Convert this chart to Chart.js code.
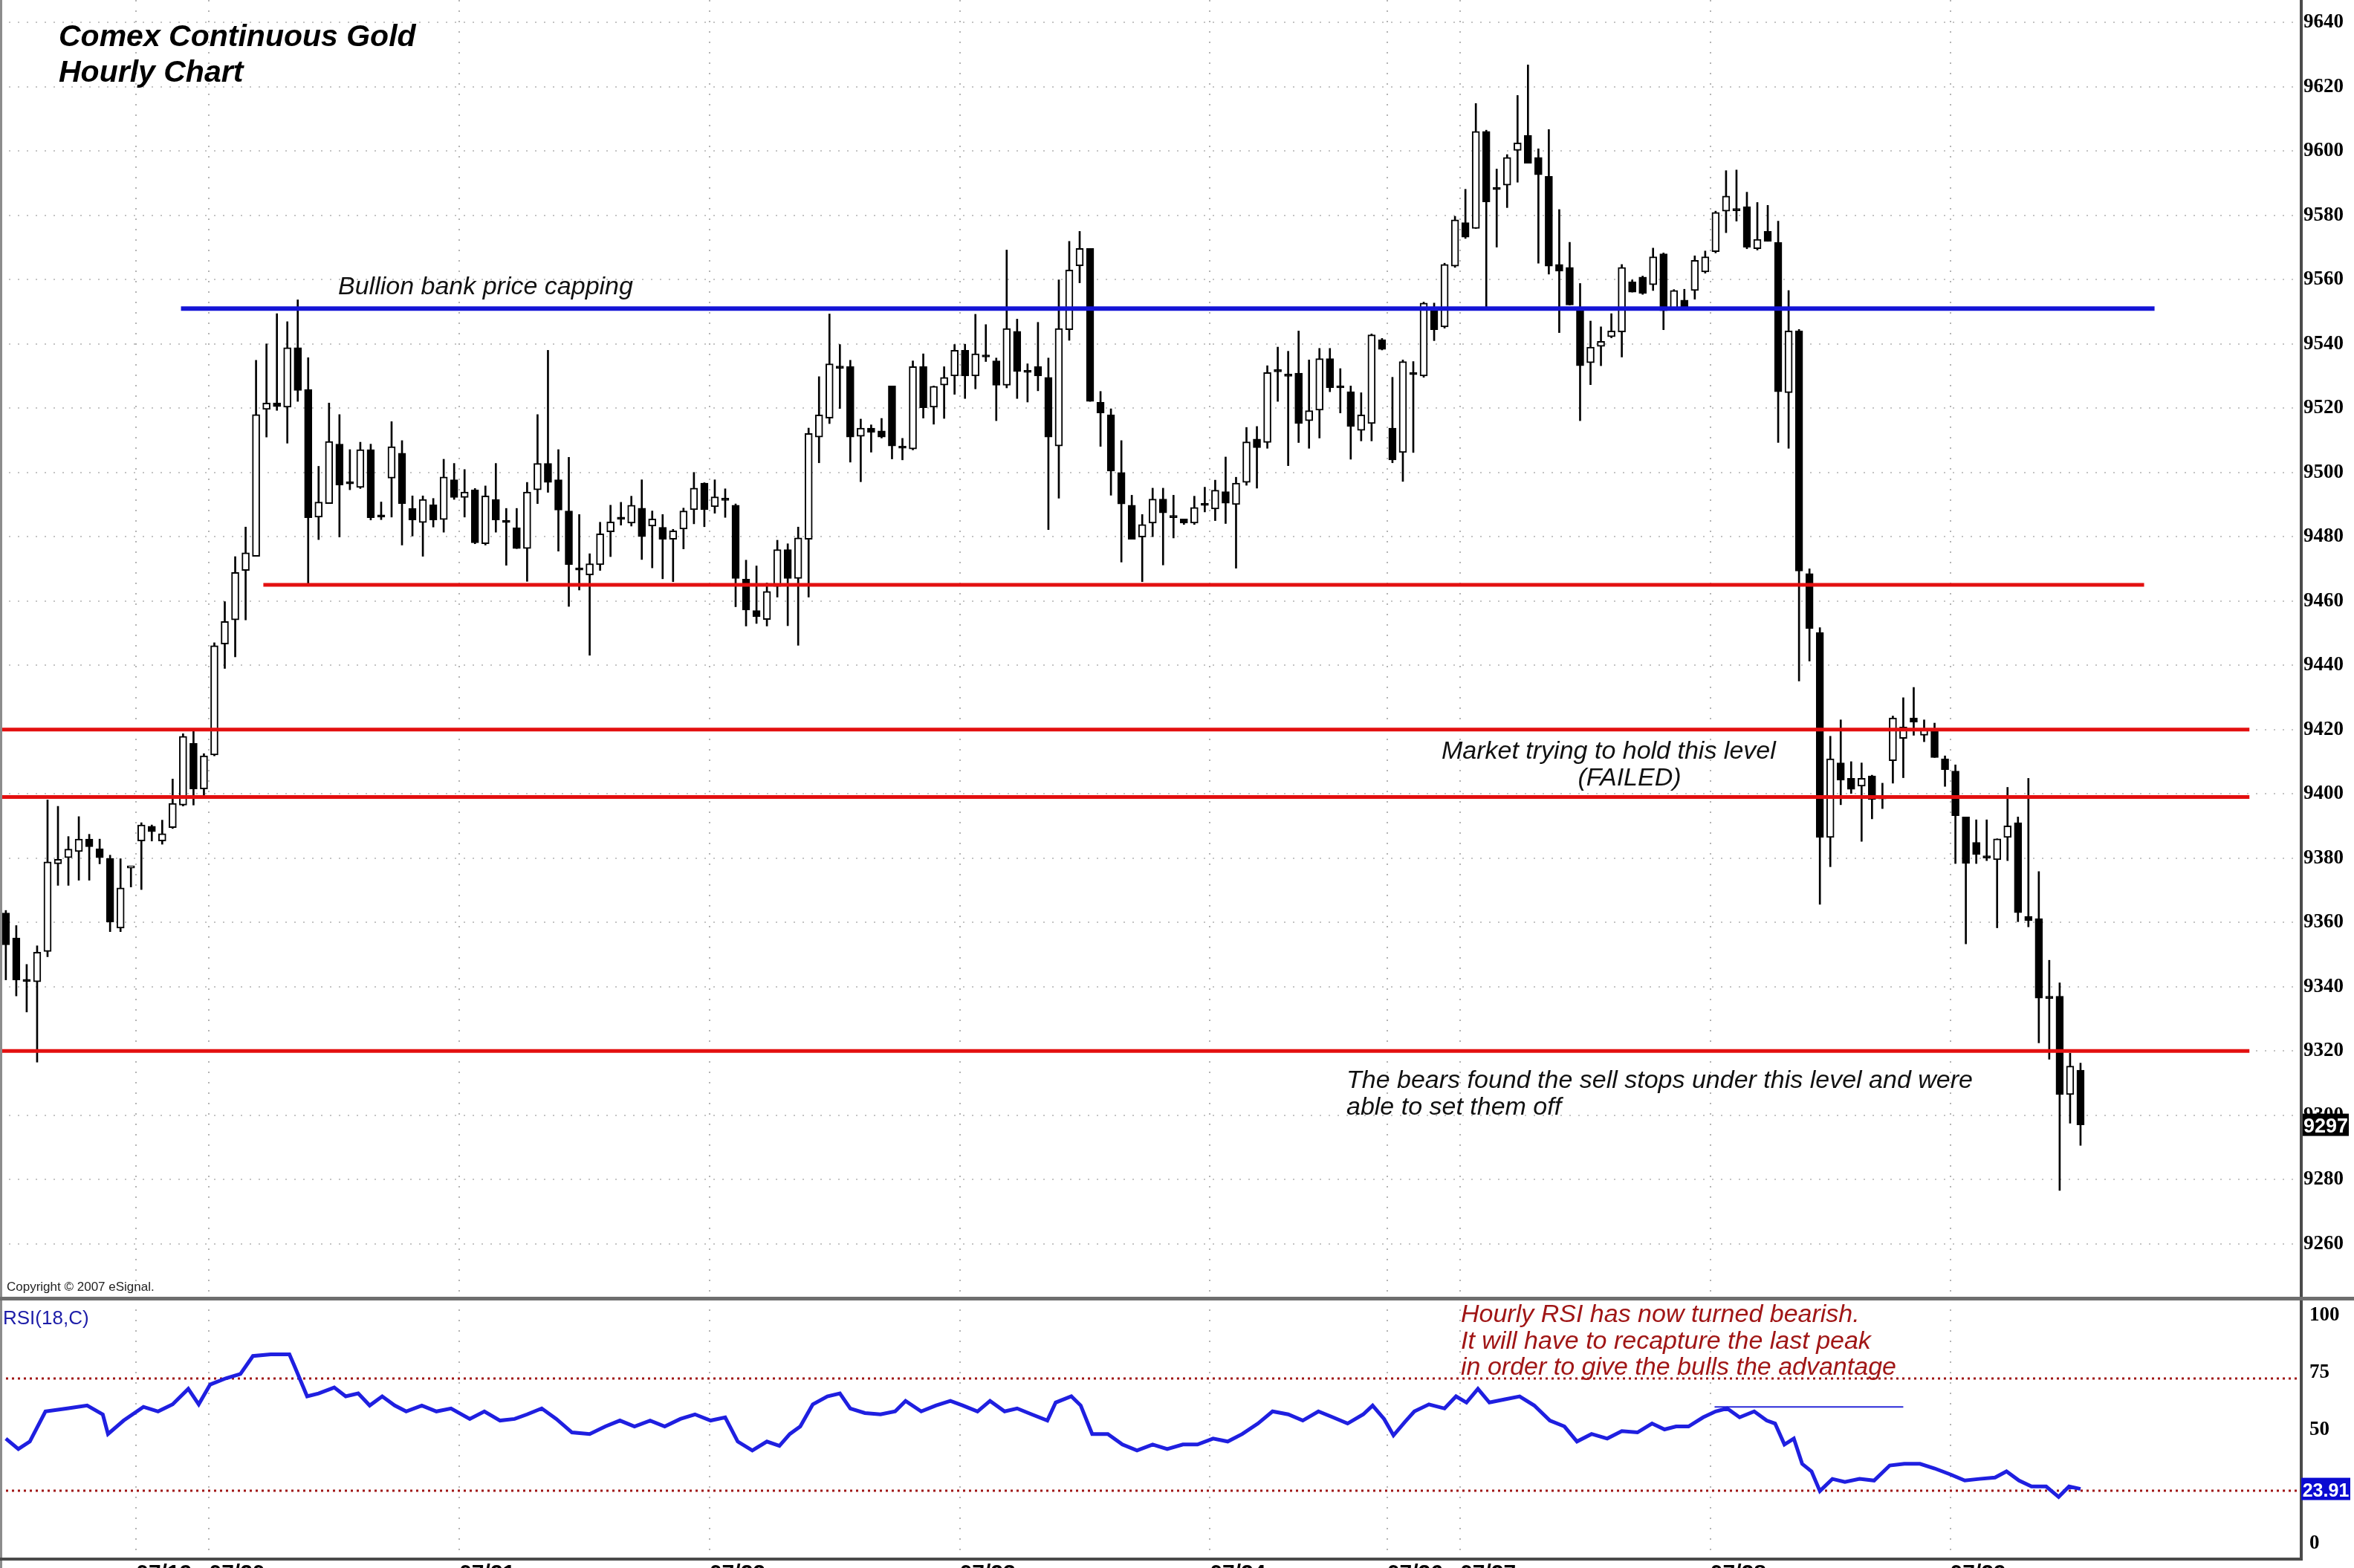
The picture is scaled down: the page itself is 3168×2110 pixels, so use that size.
<!DOCTYPE html>
<html lang="en">
<head>
<meta charset="UTF-8">
<title>Comex Continuous Gold - Hourly Chart</title>
<script src="https://cdn.jsdelivr.net/npm/chart.js"></script>
<style>
  html, body { margin: 0; padding: 0; background: #fff; overflow: hidden; }
  #wrap { position: relative; width: 3168px; height: 2110px; }
  #priceBox { position: absolute; left: 0; top: 0; width: 3168px; height: 1748px; }
  #rsiBox { position: absolute; left: 0; top: 1748px; width: 3168px; height: 402px; }
</style>
</head>
<body>
<div id="wrap">
  <div id="priceBox"><canvas id="priceChart"></canvas></div>
  <div id="rsiBox"><canvas id="rsiChart"></canvas></div>
</div>
<script>
// hourly bars (price x10, as on the axis)
const opens = [
  9362.9, 9355.1, 9342.0, 9341.5, 9350.9, 9378.2, 9380.1, 9382.0, 9385.9, 9382.9,
  9379.9, 9358.2, 9376.9, 9385.3, 9389.9, 9385.3, 9389.5, 9396.5, 9415.7, 9401.5,
  9412.1, 9446.6, 9454.1, 9469.5, 9473.9, 9519.6, 9521.6, 9520.3, 9538.8, 9525.8,
  9486.1, 9490.3, 9508.8, 9496.6, 9495.3, 9507.1, 9486.3, 9498.2, 9506.0, 9488.8,
  9484.4, 9489.9, 9485.3, 9497.7, 9492.2, 9494.6, 9477.8, 9491.6, 9484.6, 9482.8,
  9476.3, 9494.6, 9502.8, 9497.7, 9488.0, 9469.8, 9468.1, 9471.3, 9481.5, 9485.6,
  9484.2, 9488.9, 9483.3, 9482.9, 9479.2, 9482.4, 9488.4, 9496.7, 9489.3, 9491.5,
  9489.8, 9466.8, 9457.0, 9454.2, 9464.5, 9476.0, 9467.0, 9479.2, 9511.0, 9516.9,
  9532.6, 9532.9, 9511.2, 9513.8, 9512.9, 9526.9, 9507.7, 9507.3, 9532.9, 9520.3,
  9527.2, 9530.0, 9538.0, 9530.0, 9536.1, 9534.7, 9527.1, 9543.9, 9531.3, 9532.9,
  9529.6, 9508.2, 9544.4, 9564.3, 9569.7, 9521.8, 9517.9, 9500.0, 9489.8, 9479.9,
  9484.2, 9491.7, 9486.1, 9485.5, 9484.2, 9489.8, 9488.6, 9494.0, 9490.0, 9496.9,
  9510.4, 9509.3, 9531.5, 9530.1, 9530.9, 9516.1, 9519.4, 9535.4, 9526.5, 9525.1,
  9513.1, 9515.2, 9541.3, 9513.8, 9506.2, 9530.6, 9530.0, 9550.9, 9545.3, 9564.2,
  9577.7, 9575.9, 9606.1, 9588.2, 9589.4, 9600.2, 9604.9, 9598.0, 9592.1, 9564.7,
  9563.8, 9550.7, 9534.1, 9539.2, 9542.2, 9543.7, 9559.3, 9560.8, 9558.4, 9568.0,
  9550.7, 9553.6, 9556.6, 9562.4, 9568.7, 9581.3, 9581.6, 9582.7, 9569.6, 9575.0,
  9571.6, 9524.8, 9544.0, 9468.5, 9450.2, 9386.4, 9409.6, 9404.8, 9402.4, 9405.6,
  9398.8, 9410.3, 9417.2, 9423.6, 9418.2, 9420.0, 9410.9, 9407.1, 9392.8, 9384.9,
  9380.2, 9379.5, 9386.4, 9391.0, 9361.8, 9361.1, 9336.5, 9337.0, 9306.4, 9314.0
];
const highs = [
  9363.7, 9359.0, 9346.9, 9352.7, 9398.1, 9396.1, 9386.7, 9392.9, 9387.4, 9385.9,
  9380.9, 9379.8, 9376.9, 9391.0, 9390.3, 9391.8, 9404.6, 9418.7, 9419.9, 9412.5,
  9447.0, 9459.8, 9473.8, 9483.0, 9534.9, 9540.0, 9549.4, 9546.9, 9553.7, 9535.7,
  9501.9, 9521.6, 9518.0, 9507.1, 9509.4, 9508.8, 9490.8, 9515.8, 9509.9, 9492.7,
  9492.7, 9491.9, 9504.1, 9502.8, 9500.9, 9495.0, 9495.8, 9502.8, 9488.8, 9488.8,
  9496.9, 9518.0, 9538.0, 9507.1, 9504.7, 9486.9, 9474.7, 9484.5, 9489.8, 9490.7,
  9492.6, 9497.7, 9488.0, 9486.9, 9482.3, 9488.9, 9500.0, 9496.8, 9497.7, 9494.9,
  9490.2, 9472.7, 9470.9, 9465.6, 9478.9, 9477.8, 9483.0, 9513.8, 9529.8, 9549.3,
  9539.8, 9534.9, 9516.6, 9514.8, 9516.8, 9526.9, 9510.6, 9534.7, 9536.9, 9526.9,
  9532.9, 9539.8, 9539.9, 9549.2, 9546.0, 9535.6, 9569.2, 9547.7, 9533.8, 9546.7,
  9535.6, 9559.9, 9571.9, 9575.0, 9569.7, 9525.2, 9519.8, 9509.9, 9492.9, 9486.9,
  9495.1, 9495.1, 9492.9, 9485.5, 9492.6, 9495.4, 9497.6, 9504.8, 9498.5, 9514.0,
  9514.3, 9533.2, 9539.0, 9537.7, 9544.0, 9535.0, 9538.6, 9538.6, 9532.3, 9526.9,
  9524.8, 9543.1, 9541.7, 9529.6, 9535.0, 9534.5, 9553.0, 9552.7, 9565.1, 9579.7,
  9588.1, 9614.8, 9606.5, 9594.4, 9598.9, 9617.3, 9626.8, 9600.7, 9606.7, 9581.8,
  9571.6, 9558.8, 9547.1, 9545.3, 9549.4, 9564.7, 9559.9, 9561.1, 9569.8, 9568.3,
  9556.9, 9557.0, 9567.4, 9568.9, 9581.3, 9593.9, 9594.1, 9587.2, 9584.0, 9583.1,
  9578.2, 9556.6, 9544.5, 9470.0, 9451.7, 9417.9, 9423.0, 9410.0, 9409.6, 9405.8,
  9403.3, 9424.2, 9429.9, 9433.1, 9423.0, 9422.0, 9411.8, 9409.0, 9392.8, 9391.9,
  9391.9, 9386.0, 9402.0, 9392.8, 9404.8, 9375.8, 9348.2, 9341.2, 9319.3, 9316.2
];
const lows = [
  9342.1, 9337.1, 9332.1, 9316.5, 9349.3, 9371.5, 9371.5, 9373.1, 9373.1, 9378.2,
  9357.1, 9357.1, 9371.0, 9370.2, 9385.3, 9384.3, 9389.2, 9396.2, 9396.5, 9399.3,
  9411.8, 9439.0, 9442.6, 9454.1, 9473.9, 9511.0, 9519.3, 9509.1, 9522.1, 9465.3,
  9479.1, 9490.3, 9479.9, 9494.6, 9495.0, 9485.2, 9485.3, 9486.1, 9477.4, 9480.2,
  9473.9, 9483.0, 9481.4, 9491.6, 9486.1, 9477.8, 9477.4, 9481.4, 9471.1, 9476.3,
  9466.1, 9490.3, 9493.8, 9475.5, 9458.3, 9463.4, 9443.1, 9469.5, 9473.8, 9483.6,
  9483.3, 9472.9, 9470.3, 9466.9, 9466.0, 9476.2, 9484.0, 9483.1, 9487.3, 9486.0,
  9458.2, 9452.2, 9453.0, 9452.2, 9461.2, 9452.3, 9446.2, 9461.2, 9503.0, 9515.2,
  9519.9, 9503.2, 9497.1, 9506.3, 9510.7, 9504.2, 9503.9, 9507.0, 9516.9, 9515.0,
  9516.8, 9524.3, 9523.0, 9526.0, 9534.5, 9516.1, 9526.3, 9523.0, 9521.9, 9525.4,
  9482.2, 9492.0, 9541.1, 9559.0, 9522.1, 9508.1, 9492.9, 9472.1, 9479.2, 9466.0,
  9480.0, 9471.2, 9479.6, 9483.8, 9483.8, 9487.7, 9485.0, 9484.1, 9470.2, 9496.0,
  9495.1, 9507.5, 9522.1, 9502.1, 9509.3, 9507.5, 9510.7, 9525.1, 9518.5, 9504.1,
  9509.8, 9509.8, 9538.1, 9503.0, 9497.2, 9506.2, 9529.6, 9541.0, 9544.9, 9563.8,
  9572.8, 9575.9, 9550.9, 9570.1, 9582.4, 9590.3, 9596.2, 9565.1, 9561.7, 9543.5,
  9552.1, 9516.1, 9527.3, 9533.2, 9541.9, 9535.9, 9556.1, 9555.4, 9556.6, 9544.4,
  9550.7, 9550.9, 9553.9, 9562.0, 9568.3, 9574.6, 9578.2, 9569.6, 9569.2, 9571.9,
  9509.3, 9507.5, 9435.1, 9441.3, 9365.6, 9377.3, 9396.6, 9400.1, 9385.2, 9392.2,
  9395.4, 9403.3, 9405.0, 9418.2, 9416.2, 9411.3, 9402.3, 9378.3, 9353.3, 9378.3,
  9379.2, 9358.3, 9379.2, 9360.2, 9358.6, 9322.5, 9317.4, 9276.6, 9297.5, 9290.6
];
const closes = [
  9353.0, 9342.1, 9341.6, 9350.7, 9378.8, 9379.6, 9382.8, 9385.9, 9383.5, 9380.1,
  9360.1, 9370.7, 9376.9, 9390.3, 9388.2, 9387.6, 9397.0, 9417.9, 9401.5, 9411.8,
  9446.1, 9453.6, 9468.9, 9475.0, 9518.0, 9521.6, 9520.5, 9538.8, 9525.5, 9485.9,
  9490.8, 9509.6, 9496.1, 9496.4, 9507.1, 9485.9, 9486.1, 9508.0, 9490.3, 9485.2,
  9491.6, 9485.2, 9498.6, 9492.2, 9493.9, 9478.1, 9492.7, 9485.2, 9484.4, 9476.3,
  9493.9, 9502.8, 9496.9, 9488.3, 9471.3, 9469.6, 9471.6, 9480.9, 9484.6, 9485.4,
  9489.8, 9480.0, 9485.5, 9479.2, 9481.8, 9488.0, 9495.1, 9488.4, 9492.4, 9491.3,
  9467.0, 9457.2, 9455.1, 9463.0, 9476.0, 9467.0, 9479.6, 9512.1, 9517.9, 9533.8,
  9532.4, 9511.0, 9513.8, 9512.5, 9511.0, 9508.2, 9507.5, 9532.9, 9520.1, 9526.8,
  9529.6, 9538.0, 9530.0, 9536.9, 9535.9, 9527.1, 9544.8, 9531.4, 9531.1, 9530.0,
  9511.0, 9544.8, 9563.0, 9569.7, 9522.1, 9518.5, 9500.4, 9490.2, 9479.2, 9483.8,
  9491.7, 9487.4, 9485.9, 9484.2, 9489.1, 9489.7, 9494.5, 9490.4, 9496.7, 9509.5,
  9507.7, 9531.1, 9531.3, 9529.9, 9515.2, 9519.2, 9535.4, 9526.4, 9526.3, 9514.3,
  9517.9, 9542.8, 9538.3, 9503.9, 9534.5, 9530.4, 9552.7, 9544.4, 9564.7, 9578.6,
  9573.2, 9606.1, 9584.2, 9588.0, 9598.0, 9602.5, 9596.2, 9592.6, 9564.2, 9562.6,
  9552.1, 9533.2, 9539.0, 9540.8, 9544.0, 9563.8, 9556.1, 9555.7, 9567.1, 9550.3,
  9556.6, 9551.2, 9566.0, 9567.1, 9580.9, 9586.0, 9581.4, 9570.1, 9572.5, 9571.9,
  9525.1, 9544.0, 9469.3, 9451.4, 9386.4, 9410.9, 9404.3, 9401.4, 9404.8, 9398.2,
  9398.4, 9423.6, 9420.8, 9422.3, 9420.0, 9411.3, 9407.5, 9393.2, 9378.3, 9381.1,
  9380.0, 9386.0, 9390.0, 9363.0, 9360.5, 9336.4, 9336.3, 9306.4, 9315.3, 9297.0
];

// RSI(18,C): bar position and value
const rsiBar = [
  1, 2.2, 3.3, 4.8, 6.9, 8.8, 10.3, 10.8, 12.3, 14.2,
  15.6, 17.0, 18.5, 19.5, 20.6, 22.1, 23.5, 24.7, 26.4, 28.2,
  28.7, 29.9, 31.0, 32.5, 33.6, 34.8, 35.9, 37.1, 38.3, 39.4,
  40.9, 42.3, 43.7, 45.5, 46.9, 48.4, 49.8, 51.0, 52.4, 53.8,
  55.3, 57.0, 58.5, 59.9, 61.3, 62.8, 64.2, 65.7, 67.1, 68.6,
  70.0, 71.2, 72.6, 74.0, 75.2, 76.2, 77.2, 78.4, 79.8, 81.0,
  82.0, 83.4, 84.9, 86.3, 87.3, 88.8, 90.2, 91.6, 92.8, 94.2,
  95.4, 96.8, 98.0, 99.4, 100.9, 101.7, 103.2, 104.1, 105.2, 106.7,
  108.1, 109.5, 111.0, 112.4, 113.9, 115.3, 116.8, 118.2, 119.6, 121.1,
  122.5, 124.0, 125.4, 126.9, 128.3, 129.7, 131.2, 132.1, 133.2, 134.1,
  135.2, 136.1, 137.5, 139.0, 140.1, 141.1, 142.2, 143.3, 144.8, 146.2,
  147.6, 149.1, 150.5, 151.7, 153.1, 154.6, 156.0, 157.5, 158.9, 160.1,
  161.2, 162.4, 163.8, 165.0, 166.1, 167.3, 168.7, 169.9, 170.7, 171.6,
  172.5, 173.3, 174.2, 175.0, 176.2, 177.4, 178.8, 180.2, 181.7, 183.1,
  184.6, 186.0, 187.5, 188.9, 190.3, 191.8, 192.9, 194.1, 195.3, 196.7,
  197.9, 198.9, 200
];
const rsiValue = [
  46.0, 41.4, 44.7, 57.9, 59.2, 60.5, 56.6, 48.0, 53.9, 59.9,
  57.9, 61.0, 67.8, 61.0, 69.7, 72.4, 74.3, 82.2, 82.9, 82.9,
  77.6, 64.5, 65.8, 68.4, 64.5, 65.8, 60.5, 64.5, 60.5, 57.9,
  60.5, 57.9, 59.2, 54.6, 57.9, 53.9, 54.6, 56.6, 59.2, 54.6,
  48.7, 48.0, 51.3, 53.9, 51.3, 53.9, 51.3, 54.6, 56.6, 53.9,
  55.3, 44.7, 40.8, 44.7, 42.8, 48.0, 51.3, 61.0, 64.5, 65.8,
  59.2, 57.2, 56.6, 57.9, 62.5, 57.9, 60.5, 62.5, 60.5, 57.9,
  62.5, 57.9, 59.2, 56.6, 53.9, 61.8, 64.5, 60.5, 48.0, 48.0,
  43.4, 40.8, 43.4, 41.4, 43.4, 43.4, 46.0, 44.7, 48.0, 52.6,
  57.9, 56.6, 53.9, 57.9, 55.3, 52.6, 56.6, 60.5, 54.6, 47.4,
  53.3, 57.9, 61.0, 59.2, 64.5, 61.8, 67.8, 61.8, 63.2, 64.5,
  60.5, 53.9, 51.3, 44.7, 48.0, 46.0, 49.3, 48.7, 52.6, 50.0,
  51.3, 51.3, 55.3, 57.9, 59.2, 55.3, 57.9, 53.9, 52.6, 43.4,
  46.0, 34.9, 31.6, 23.0, 28.3, 27.0, 28.3, 27.6, 34.2, 34.9,
  34.9, 32.9, 30.3, 27.6, 28.3, 28.9, 31.6, 27.6, 25.0, 25.0,
  20.4, 25.0, 23.91
];

const priceTicks = [9260, 9280, 9300, 9320, 9340, 9360, 9380, 9400, 9420, 9440,
  9460, 9480, 9500, 9520, 9540, 9560, 9580, 9600, 9620, 9640];
const rsiTicks = [0, 50, 75, 100];
const dayBars = [13.5, 20.5, 44.5, 68.5, 92.5, 116.5, 133.5, 140.5, 164.5, 187.5];
const dayLabels = ['07/19', '07/20', '07/21', '07/22', '07/23', '07/24', '07/26', '07/27', '07/28', '07/29'];

// hand drawn levels: price, first bar, last bar
const levelPrice = [9551, 9465, 9420, 9399, 9320];
const levelFrom = [17.8, 25.7, 0.44, 0.44, 0.44];
const levelTo = [207.1, 206.1, 216.2, 216.2, 216.2];
const rsiBands = [72.3, 23.1];
const rsiPeak = 59.9, rsiPeakFrom = 164.9, rsiPeakTo = 183;

const X_MIN = 0.44, X_MAX = 221.1;

Chart.defaults.font.family = '"Liberation Sans", Arial, sans-serif';
Chart.defaults.animation = false;

const axisFont = { family: '"Liberation Serif", "Times New Roman", serif', size: 27, weight: 'bold' };
const noteFont = 'italic 34px "Liberation Sans", Arial, sans-serif';

function text(ctx, s, x, y, font, color, align) {
  ctx.save();
  ctx.font = font;
  ctx.fillStyle = color;
  ctx.textAlign = align || 'left';
  ctx.textBaseline = 'alphabetic';
  ctx.fillText(s, x, y);
  ctx.restore();
}

function frame(ctx, chart) {
  const a = chart.chartArea;
  ctx.save();
  ctx.fillStyle = '#8c8c8c';
  ctx.fillRect(0, 0, 3, chart.height);
  ctx.fillStyle = '#4a4a4a';
  ctx.fillRect(a.right - 1, 0, 4, a.bottom);
  ctx.restore();
}

const bars = opens.map((o, i) => i + 1);
const up = opens.map((o, i) => closes[i] >= o);

const levelSets = levelPrice.map((p, i) => ({
  type: 'line',
  data: [{ x: levelFrom[i], y: p }, { x: levelTo[i], y: p }],
  borderColor: i === 0 ? '#1414d6' : '#e31010',
  borderWidth: i === 0 ? 6 : 5,
  pointRadius: 0,
  order: 0
}));

const pricePlugin = {
  id: 'priceDecor',
  afterDraw(chart) {
    const { ctx, chartArea: a, scales } = chart;
    frame(ctx, chart);
    ctx.save();
    ctx.fillStyle = '#6e6e6e';
    ctx.fillRect(0, chart.height - 3, chart.width, 3);
    // last price marker
    const last = closes[closes.length - 1];
    const yy = scales.y.getPixelForValue(last);
    ctx.fillStyle = '#000';
    ctx.fillRect(a.right + 3, yy - 15, 62, 30);
    ctx.restore();
    text(ctx, String(Math.round(last)), a.right + 34, yy + 10, 'bold 27px "Liberation Sans", Arial', '#fff', 'center');

    text(ctx, 'Comex Continuous Gold', 79, 62, 'italic bold 41px "Liberation Sans", Arial', '#000');
    text(ctx, 'Hourly Chart', 79, 110, 'italic bold 41px "Liberation Sans", Arial', '#000');
    text(ctx, 'Bullion bank price capping', 455, 396, noteFont, '#111');
    text(ctx, 'Market trying to hold this level', 1940, 1021, noteFont, '#111');
    text(ctx, '(FAILED)', 2193, 1057, noteFont, '#111', 'center');
    text(ctx, 'The bears found the sell stops under this level and were', 1812, 1464, noteFont, '#111');
    text(ctx, 'able to set them off', 1812, 1500, noteFont, '#111');
    text(ctx, 'Copyright \u00a9 2007 eSignal.', 9, 1737, '17px "Liberation Sans", Arial', '#222');
  }
};

new Chart(document.getElementById('priceChart'), {
  type: 'bar',
  data: {
    datasets: [
      {
        label: 'range',
        data: bars.map((n, i) => ({ x: n, y: [lows[i], highs[i]] })),
        backgroundColor: '#000',
        barThickness: 2,
        grouped: false,
        order: 3
      },
      {
        label: 'body',
        data: bars.map((n, i) => ({ x: n, y: [opens[i], closes[i]] })),
        backgroundColor: up.map(u => u ? '#ffffff' : '#000000'),
        borderColor: '#000',
        borderWidth: 2,
        borderSkipped: false,
        barThickness: 10,
        minBarLength: 3,
        grouped: false,
        order: 2
      },
      ...levelSets
    ]
  },
  options: {
    responsive: true,
    maintainAspectRatio: false,
    devicePixelRatio: 1,
    layout: { padding: 0 },
    plugins: { legend: { display: false }, tooltip: { enabled: false } },
    scales: {
      x: {
        type: 'linear',
        min: X_MIN,
        max: X_MAX,
        offset: false,
        afterBuildTicks: axis => { axis.ticks = dayBars.map(v => ({ value: v })); },
        afterFit: axis => { axis.height = 0; axis.paddingLeft = 0; axis.paddingRight = 0; },
        ticks: { display: false },
        grid: { color: '#b4b4b4', lineWidth: 2, drawTicks: false, offset: false },
        border: { display: false, dash: [2, 12] }
      },
      y: {
        position: 'right',
        min: 9242.8,
        max: 9647.0,
        afterBuildTicks: axis => { axis.ticks = priceTicks.map(v => ({ value: v })); },
        afterFit: axis => { axis.width = 72; axis.paddingTop = 0; axis.paddingBottom = 0; },
        ticks: { font: axisFont, color: '#000', padding: 4, crossAlign: 'near', callback: v => String(v) },
        grid: { color: '#c4c4c4', lineWidth: 2, drawTicks: false },
        border: { display: false, dash: [2, 10] }
      }
    }
  },
  plugins: [pricePlugin]
});

const rsiPlugin = {
  id: 'rsiDecor',
  afterDraw(chart) {
    const { ctx, chartArea: a, scales } = chart;
    frame(ctx, chart);
    ctx.save();
    ctx.fillStyle = '#6e6e6e';
    ctx.fillRect(0, 0, chart.width, 2);
    ctx.fillStyle = '#4a4a4a';
    ctx.fillRect(0, a.bottom, a.right + 3, 4);
    const last = rsiValue[rsiValue.length - 1];
    const yy = scales.y.getPixelForValue(last);
    ctx.fillStyle = '#0b0bd2';
    ctx.fillRect(a.right + 1, yy - 15, 66, 30);
    ctx.restore();
    text(ctx, last.toFixed(2), a.right + 34, yy + 10, 'bold 25px "Liberation Sans", Arial', '#fff', 'center');

    text(ctx, 'RSI(18,C)', 4, 34, '26px "Liberation Sans", Arial', '#1c1ca8');
    const red = '#a01616';
    text(ctx, 'Hourly RSI has now turned bearish.', 1966, 31, noteFont, red);
    text(ctx, 'It will have to recapture the last peak', 1966, 67, noteFont, red);
    text(ctx, 'in order to give the bulls the advantage', 1966, 102, noteFont, red);
  }
};

new Chart(document.getElementById('rsiChart'), {
  type: 'line',
  data: {
    datasets: [
      {
        label: 'RSI(18,C)',
        data: rsiBar.map((b, i) => ({ x: b, y: rsiValue[i] })),
        borderColor: '#1f1fe0',
        borderWidth: 5,
        pointRadius: 0,
        tension: 0,
        order: 0
      },
      ...rsiBands.map(v => ({
        data: [{ x: X_MIN, y: v }, { x: X_MAX, y: v }],
        borderColor: '#a01616',
        borderWidth: 3,
        borderDash: [3, 5],
        pointRadius: 0,
        order: 2
      })),
      {
        data: [{ x: rsiPeakFrom, y: rsiPeak }, { x: rsiPeakTo, y: rsiPeak }],
        borderColor: '#2a2ad8',
        borderWidth: 2,
        pointRadius: 0,
        order: 1
      }
    ]
  },
  options: {
    responsive: true,
    maintainAspectRatio: false,
    devicePixelRatio: 1,
    layout: { padding: 0 },
    plugins: { legend: { display: false }, tooltip: { enabled: false } },
    scales: {
      x: {
        type: 'linear',
        min: X_MIN,
        max: X_MAX,
        offset: false,
        afterBuildTicks: axis => { axis.ticks = dayBars.map(v => ({ value: v })); },
        afterFit: axis => { axis.height = 54; axis.paddingLeft = 0; axis.paddingRight = 0; },
        ticks: {
          callback: (v, i) => dayLabels[i],
          align: 'start',
          autoSkip: false,
          maxRotation: 0,
          minRotation: 0,
          padding: 4,
          color: '#000',
          font: { family: '"Liberation Sans Narrow", "Liberation Sans", Arial', size: 30, weight: 'bold' }
        },
        grid: { color: '#b4b4b4', lineWidth: 2, drawTicks: false },
        border: { display: false, dash: [2, 12] }
      },
      y: {
        position: 'right',
        min: -6.2,
        max: 107.2,
        afterBuildTicks: axis => { axis.ticks = rsiTicks.map(v => ({ value: v })); },
        afterFit: axis => { axis.width = 72; axis.paddingTop = 0; axis.paddingBottom = 0; },
        ticks: { font: axisFont, color: '#000', padding: 4, crossAlign: 'near' },
        grid: { display: false },
        border: { display: false }
      }
    }
  },
  plugins: [rsiPlugin]
});
</script>
</body>
</html>
